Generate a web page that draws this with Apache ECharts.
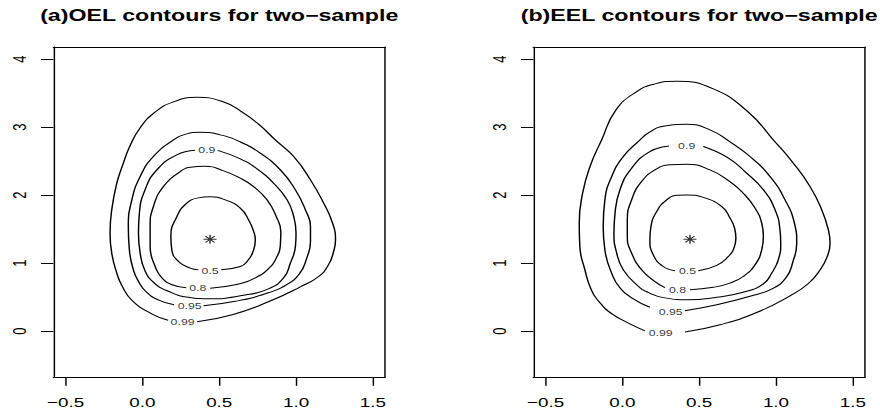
<!DOCTYPE html>
<html>
<head>
<meta charset="utf-8">
<script src="https://cdn.jsdelivr.net/npm/echarts@6/dist/echarts.min.js"></script>
<style>
html,body{margin:0;padding:0;background:#fff;overflow:hidden;}
#wrap{width:880px;height:414px;overflow:hidden;}
#c{width:607px;height:414px;transform:scaleX(1.45);transform-origin:0 0;}
</style>
</head>
<body>
<div id="wrap"><div id="c"></div></div>
<script>
// ---- data ----
const titles = ['(a)OEL contours for two\u2212sample', '(b)EEL contours for two\u2212sample'];
const xTicks = [-0.5, 0, 0.5, 1, 1.5];
const yTicks = [0, 1, 2, 3, 4];
const levels = ['0.5', '0.8', '0.9', '0.95', '0.99'];

const oelCenter = [0.44, 1.35];
const oel05 = [[0.513,0.901],[0.637,0.950],[0.681,1.024],[0.724,1.196],[0.735,1.343],[0.724,1.465],[0.691,1.637],[0.637,1.809],[0.539,1.931],[0.441,1.975],[0.363,1.960],[0.289,1.882],[0.224,1.685],[0.185,1.391],[0.191,1.196],[0.235,1.024],[0.311,0.926],[0.363,0.901]];
const oel08 = [[0.441,0.632],[0.604,0.681],[0.735,0.784],[0.820,0.916],[0.872,1.078],[0.898,1.269],[0.901,1.460],[0.872,1.681],[0.811,1.931],[0.724,2.126],[0.637,2.250],[0.520,2.365],[0.409,2.424],[0.311,2.409],[0.246,2.347],[0.137,2.126],[0.071,1.832],[0.050,1.538],[0.050,1.244],[0.083,0.950],[0.126,0.784],[0.193,0.681],[0.285,0.637]];
const oel09 = [[0.490,2.659],[0.637,2.534],[0.746,2.387],[0.854,2.176],[0.942,1.931],[0.985,1.685],[1.000,1.441],[0.996,1.244],[0.963,1.000],[0.919,0.784],[0.820,0.622],[0.637,0.519],[0.441,0.475],[0.298,0.497],[0.161,0.593],[0.076,0.710],[0.017,0.887],[-0.015,1.147],[-0.026,1.441],[-0.020,1.735],[0.017,2.078],[0.094,2.372],[0.224,2.593],[0.343,2.659]];
const oel095 = [[0.398,0.372],[0.604,0.438],[0.800,0.549],[0.937,0.681],[1.022,0.843],[1.068,1.063],[1.094,1.313],[1.094,1.538],[1.061,1.784],[0.996,2.078],[0.898,2.372],[0.767,2.618],[0.637,2.784],[0.506,2.887],[0.376,2.926],[0.278,2.894],[0.202,2.813],[0.071,2.568],[-0.015,2.274],[-0.069,1.931],[-0.092,1.538],[-0.085,1.193],[-0.059,0.901],[-0.028,0.740],[0.024,0.578],[0.102,0.460],[0.206,0.387]];
const oel099 = [[0.356,0.137],[0.585,0.240],[0.820,0.431],[1.028,0.651],[1.145,0.799],[1.211,0.975],[1.244,1.166],[1.257,1.343],[1.237,1.593],[1.180,1.882],[1.094,2.225],[0.985,2.568],[0.865,2.813],[0.754,3.049],[0.637,3.240],[0.520,3.379],[0.356,3.441],[0.193,3.365],[0.076,3.210],[-0.015,2.990],[-0.081,2.725],[-0.126,2.460],[-0.167,2.176],[-0.200,1.784],[-0.211,1.441],[-0.200,1.147],[-0.167,0.853],[-0.133,0.666],[-0.066,0.446],[0.060,0.254],[0.167,0.159]];
const oelLabelPos = [[0.441,0.891],[0.361,0.632],[0.420,2.666],[0.308,0.372],[0.262,0.141]];

const eelCenter = [0.44, 1.353];
const eel05 = [[0.494,0.887],[0.614,0.968],[0.688,1.093],[0.727,1.225],[0.739,1.368],[0.730,1.519],[0.701,1.662],[0.649,1.828],[0.527,1.968],[0.419,2.004],[0.353,1.997],[0.288,1.931],[0.223,1.759],[0.186,1.538],[0.179,1.343],[0.201,1.122],[0.266,0.950],[0.342,0.887]];
const eel08 = [[0.440,0.607],[0.592,0.644],[0.700,0.706],[0.787,0.803],[0.864,0.976],[0.907,1.196],[0.918,1.391],[0.907,1.588],[0.864,1.809],[0.787,2.029],[0.700,2.200],[0.570,2.372],[0.419,2.456],[0.310,2.446],[0.223,2.387],[0.125,2.200],[0.060,1.931],[0.032,1.637],[0.032,1.391],[0.060,1.147],[0.125,0.901],[0.212,0.729],[0.277,0.640]];
const eel09 = [[0.527,2.715],[0.688,2.549],[0.809,2.324],[0.918,2.078],[0.994,1.784],[1.026,1.490],[1.031,1.294],[1.015,1.049],[0.972,0.853],[0.918,0.696],[0.798,0.578],[0.614,0.497],[0.419,0.460],[0.288,0.485],[0.166,0.571],[0.093,0.681],[0.006,0.901],[-0.037,1.147],[-0.055,1.441],[-0.048,1.735],[-0.016,2.078],[0.060,2.397],[0.179,2.641],[0.303,2.725]];
const eel095 = [[0.407,0.299],[0.614,0.387],[0.831,0.512],[0.974,0.622],[1.065,0.784],[1.110,1.019],[1.135,1.297],[1.120,1.588],[1.059,1.931],[0.961,2.274],[0.831,2.568],[0.701,2.784],[0.570,2.960],[0.419,3.044],[0.277,3.019],[0.179,2.931],[0.101,2.784],[0.006,2.568],[-0.070,2.274],[-0.114,1.931],[-0.125,1.538],[-0.114,1.193],[-0.070,0.853],[-0.016,0.637],[0.071,0.475],[0.179,0.350]];
const eel099 = [[0.407,-0.015],[0.636,0.093],[0.870,0.269],[1.092,0.519],[1.209,0.696],[1.287,0.901],[1.333,1.093],[1.352,1.294],[1.341,1.490],[1.298,1.784],[1.222,2.126],[1.113,2.471],[0.983,2.813],[0.818,3.225],[0.592,3.563],[0.353,3.676],[0.212,3.637],[0.093,3.524],[-0.042,3.254],[-0.135,2.813],[-0.211,2.421],[-0.259,2.029],[-0.281,1.588],[-0.277,1.244],[-0.244,0.901],[-0.205,0.622],[-0.146,0.416],[-0.068,0.254],[0.049,0.107],[0.147,0.004]];
const eelLabelPos = [[0.424,0.887],[0.359,0.607],[0.419,2.729],[0.315,0.288],[0.250,-0.025]];

// ---- chart ----
const FONT = '"Liberation Sans", Arial, Helvetica, sans-serif';
const grids = [
  {left: 36.8, top: 47, width: 228.8, height: 330.3},
  {left: 367.8, top: 47, width: 228.8, height: 330.3}
];
const panels = [
  {contours: [oel05, oel08, oel09, oel095, oel099], labels: oelLabelPos, center: oelCenter},
  {contours: [eel05, eel08, eel09, eel095, eel099], labels: eelLabelPos, center: eelCenter}
];
const fmtX = v => (v < 0 ? '\u2212' : '') + Math.abs(v).toFixed(1);
const XR = {min: -0.58, max: 1.58};
const YR = {min: -0.68, max: 4.18};
const lineBlack = {show: true, onZero: false, lineStyle: {color: '#000', width: 1}};

const xAxes = [], yAxes = [];
grids.forEach((g, i) => {
  xAxes.push({
    gridIndex: i, type: 'value', position: 'bottom', min: XR.min, max: XR.max,
    splitLine: {show: false}, axisLine: lineBlack,
    axisTick: {show: true, customValues: xTicks, length: 8.5, lineStyle: {color: '#000', width: 1}},
    axisLabel: {customValues: xTicks, formatter: fmtX, color: '#000', fontSize: 13, fontFamily: FONT, margin: 18}
  });
  xAxes.push({
    gridIndex: i, type: 'value', position: 'top', min: XR.min, max: XR.max,
    splitLine: {show: false}, axisLine: lineBlack, axisTick: {show: false}, axisLabel: {show: false}
  });
  yAxes.push({
    gridIndex: i, type: 'value', position: 'left', min: YR.min, max: YR.max,
    splitLine: {show: false}, axisLine: lineBlack,
    axisTick: {show: true, customValues: yTicks, length: 8.5, lineStyle: {color: '#000', width: 1}},
    axisLabel: {customValues: yTicks, formatter: v => String(v), rotate: 90, color: '#000', fontSize: 13, fontFamily: FONT, margin: 17}
  });
  yAxes.push({
    gridIndex: i, type: 'value', position: 'right', min: YR.min, max: YR.max,
    splitLine: {show: false}, axisLine: lineBlack, axisTick: {show: false}, axisLabel: {show: false}
  });
});

const option = {
  animation: false,
  backgroundColor: '#fff',
  title: grids.map((g, i) => ({
    text: titles[i],
    left: g.left + g.width / 2,
    textAlign: 'center',
    top: 7,
    padding: 0,
    textStyle: {fontSize: 16, fontWeight: 'bold', fontFamily: FONT, color: '#000'}
  })),
  grid: grids.map(g => Object.assign({containLabel: false}, g)),
  xAxis: xAxes,
  yAxis: yAxes,
  series: []
};

panels.forEach((p, i) => {
  const xi = 2 * i, yi = 2 * i;
  p.contours.forEach((c, k) => {
    option.series.push({
      type: 'line', xAxisIndex: xi, yAxisIndex: yi, name: levels[k],
      data: c, smooth: 0.5, symbol: 'none', silent: true,
      lineStyle: {color: '#000', width: 1}
    });
  });
  option.series.push({
    type: 'scatter', xAxisIndex: xi, yAxisIndex: yi, silent: true,
    data: p.labels.map((d, k) => ({value: d, name: levels[k]})),
    symbolSize: 0.1, itemStyle: {color: 'rgba(0,0,0,0)'},
    label: {show: true, position: [0, 0], align: 'center', verticalAlign: 'middle',
            formatter: '{b}', fontSize: 8.5, fontFamily: FONT,
            color: '#000', textBorderWidth: 0}
  });
  option.series.push({
    type: 'scatter', xAxisIndex: xi, yAxisIndex: yi, silent: true,
    data: [p.center],
    symbol: 'path://M0,5 L10,5 M5,0 L5,10 M1.5,1.5 L8.5,8.5 M8.5,1.5 L1.5,8.5',
    symbolSize: 9,
    itemStyle: {color: 'none', borderColor: '#000', borderWidth: 1}
  });
});

const chart = echarts.init(document.getElementById('c'), null, {renderer: 'svg'});
chart.setOption(option);
</script>
</body>
</html>
